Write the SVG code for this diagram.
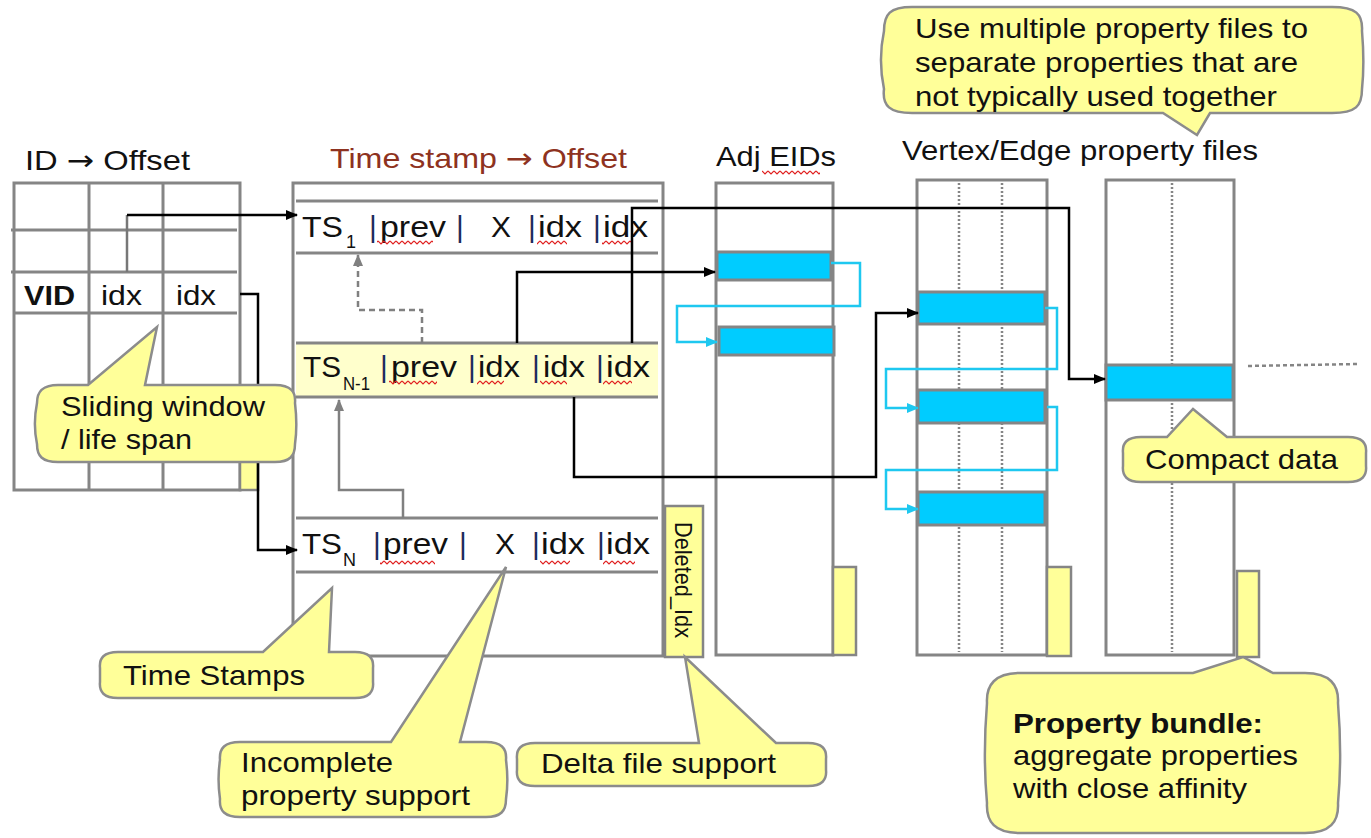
<svg xmlns="http://www.w3.org/2000/svg" width="1371" height="838" viewBox="0 0 1371 838">
<style>
text{font-family:"Liberation Sans",Arial,sans-serif;fill:#111;}
.arr{font-family:"DejaVu Sans",sans-serif;}
.t28{font-size:28px;}
.t30{font-size:30px;}
.sub{font-size:18px;}
.bar{font-size:30px;fill:#1c2c5c;}
.box{fill:#fff;stroke:#858585;stroke-width:3;}
.ln{stroke:#858585;stroke-width:3;fill:none;}
.dot{stroke:#858585;stroke-width:2.5;stroke-dasharray:2,2;fill:none;}
.blue{fill:#00CCFF;stroke:#858585;stroke-width:3;}
.yel{fill:#FFFF99;stroke:#858585;stroke-width:2.5;}
.call{fill:#FFFF99;stroke:#8C8C8C;stroke-width:2.5;}
.bk{stroke:#000;stroke-width:2.5;fill:none;}
.gr{stroke:#808080;stroke-width:2.5;fill:none;}
.cy{stroke:#1EC8F0;stroke-width:2.5;fill:none;}
.wave{fill:url(#wv);}
</style>
<defs>
<pattern id="wv" width="6" height="5" patternUnits="userSpaceOnUse"><path d="M0,1 L3,4 L6,1" fill="none" stroke="#e02020" stroke-width="1.2"/></pattern>
<marker id="ab" markerWidth="12" markerHeight="10" refX="11" refY="5" orient="auto" markerUnits="userSpaceOnUse"><path d="M0,0 L12,5 L0,10 z" fill="#000"/></marker>
<marker id="ag" markerWidth="12" markerHeight="10" refX="11" refY="5" orient="auto" markerUnits="userSpaceOnUse"><path d="M0,0 L12,5 L0,10 z" fill="#808080"/></marker>
<marker id="ac" markerWidth="12" markerHeight="10" refX="11" refY="5" orient="auto" markerUnits="userSpaceOnUse"><path d="M0,0 L12,5 L0,10 z" fill="#1EC8F0"/></marker>
</defs>
<rect width="1371" height="838" fill="#fff"/>

<!-- ID -> Offset table -->
<g id="id-table">
<text class="t28" x="25" y="170" textLength="165" lengthAdjust="spacingAndGlyphs">ID <tspan class="arr">→</tspan> Offset</text>
<rect class="box" x="14" y="183" width="226" height="307"/>
<line class="ln" x1="89" y1="183" x2="89" y2="490"/>
<line class="ln" x1="163" y1="183" x2="163" y2="490"/>
<line class="ln" x1="11" y1="230" x2="237" y2="230"/>
<line class="ln" x1="11" y1="272" x2="237" y2="272"/>
<line class="ln" x1="14" y1="313" x2="237" y2="313"/>
<text class="t28" x="24" y="305" font-weight="bold" textLength="51" lengthAdjust="spacingAndGlyphs">VID</text>
<text class="t28" x="101" y="305" textLength="41" lengthAdjust="spacingAndGlyphs">idx</text>
<text class="t28" x="176" y="305" textLength="40" lengthAdjust="spacingAndGlyphs">idx</text>
<rect class="yel" x="240" y="430" width="18" height="60"/>
</g>

<!-- Time stamp table -->
<g id="ts-table">
<text class="t28" x="330" y="168" textLength="297" lengthAdjust="spacingAndGlyphs" style="fill:#8E3220">Time stamp <tspan class="arr" style="fill:#8E3220">→</tspan> Offset</text>
<rect class="box" x="293" y="183" width="370" height="473"/>
<rect x="296" y="343" width="362" height="54" fill="#FFFFCC"/>
<line class="ln" x1="296" y1="201" x2="658" y2="201"/>
<line class="ln" x1="296" y1="253" x2="658" y2="253"/>
<line class="ln" x1="296" y1="343" x2="658" y2="343"/>
<line class="ln" x1="296" y1="397" x2="658" y2="397"/>
<line class="ln" x1="296" y1="518" x2="658" y2="518"/>
<line class="ln" x1="296" y1="572" x2="658" y2="572"/>
<!-- TS1 row -->
<text class="t30" x="302" y="237" textLength="41" lengthAdjust="spacingAndGlyphs">TS</text>
<text class="sub" x="346" y="248">1</text>
<text class="bar" x="369" y="237">|</text>
<text class="t30" x="380" y="237" textLength="66" lengthAdjust="spacingAndGlyphs">prev</text>
<text class="bar" x="456" y="237">|</text>
<text class="t30" x="491" y="237" textLength="20" lengthAdjust="spacingAndGlyphs">X</text>
<text class="bar" x="528" y="237">|</text>
<text class="t30" x="538" y="237" textLength="44" lengthAdjust="spacingAndGlyphs">idx</text>
<text class="bar" x="593" y="237">|</text>
<text class="t30" x="603" y="237" textLength="45" lengthAdjust="spacingAndGlyphs">idx</text>
<rect class="wave" x="377" y="240" width="56" height="5"/>
<rect class="wave" x="537" y="240" width="30" height="5"/>
<rect class="wave" x="602" y="240" width="31" height="5"/>
<!-- TSN-1 row -->
<text class="t30" x="303" y="377" textLength="38" lengthAdjust="spacingAndGlyphs">TS</text>
<text class="sub" x="343" y="390" textLength="27" lengthAdjust="spacingAndGlyphs">N-1</text>
<text class="bar" x="380" y="377">|</text>
<text class="t30" x="391" y="377" textLength="66" lengthAdjust="spacingAndGlyphs">prev</text>
<text class="bar" x="468" y="377">|</text>
<text class="t30" x="478" y="377" textLength="42" lengthAdjust="spacingAndGlyphs">idx</text>
<text class="bar" x="532" y="377">|</text>
<text class="t30" x="543" y="377" textLength="42" lengthAdjust="spacingAndGlyphs">idx</text>
<text class="bar" x="596" y="377">|</text>
<text class="t30" x="606" y="377" textLength="44" lengthAdjust="spacingAndGlyphs">idx</text>
<rect class="wave" x="389" y="380" width="48" height="5"/>
<rect class="wave" x="477" y="380" width="27" height="5"/>
<rect class="wave" x="540" y="380" width="27" height="5"/>
<rect class="wave" x="603" y="380" width="29" height="5"/>
<!-- TSN row -->
<text class="t30" x="302" y="554" textLength="40" lengthAdjust="spacingAndGlyphs">TS</text>
<text class="sub" x="343" y="566">N</text>
<text class="bar" x="373" y="554">|</text>
<text class="t30" x="383" y="554" textLength="65" lengthAdjust="spacingAndGlyphs">prev</text>
<text class="bar" x="459" y="554">|</text>
<text class="t30" x="495" y="554" textLength="20" lengthAdjust="spacingAndGlyphs">X</text>
<text class="bar" x="532" y="554">|</text>
<text class="t30" x="541" y="554" textLength="44" lengthAdjust="spacingAndGlyphs">idx</text>
<text class="bar" x="597" y="554">|</text>
<text class="t30" x="606" y="554" textLength="44" lengthAdjust="spacingAndGlyphs">idx</text>
<rect class="wave" x="380" y="560" width="55" height="5"/>
<rect class="wave" x="540" y="560" width="30" height="5"/>
<rect class="wave" x="603" y="560" width="32" height="5"/>
</g>

<g id="deleted-idx">
<rect class="yel" x="665" y="506" width="38" height="151"/>
<text font-size="24" transform="translate(675,522) rotate(90)" textLength="116" lengthAdjust="spacingAndGlyphs">Deleted_Idx</text>
</g>

<!-- Adj EIDs -->
<g id="adj-eids">
<text class="t28" x="716" y="166" textLength="120" lengthAdjust="spacingAndGlyphs">Adj EIDs</text>
<rect class="wave" x="762" y="170" width="58" height="5"/>
<rect class="box" x="716" y="183" width="117" height="472"/>
<rect class="blue" x="717" y="252" width="114" height="28"/>
<rect class="blue" x="719" y="327" width="115" height="28"/>
<rect class="yel" x="833" y="567" width="23" height="88"/>
</g>

<!-- Vertex/Edge property files -->
<g id="prop-title">
<text class="t28" x="902" y="160" textLength="356" lengthAdjust="spacingAndGlyphs">Vertex/Edge property files</text>
</g>
<g id="prop-file-1">
<rect class="box" x="917" y="180" width="130" height="475"/>
<line class="dot" x1="959" y1="183" x2="959" y2="652"/>
<line class="dot" x1="1002" y1="183" x2="1002" y2="652"/>
<rect class="blue" x="918" y="292" width="127" height="32"/>
<rect class="blue" x="918" y="390" width="127" height="33"/>
<rect class="blue" x="918" y="492" width="127" height="33"/>
<rect class="yel" x="1047" y="567" width="24" height="89"/>
</g>
<g id="prop-file-2">
<rect class="box" x="1106" y="180" width="128" height="475"/>
<line class="dot" x1="1172" y1="183" x2="1172" y2="652"/>
<rect class="blue" x="1106" y="365" width="127" height="35"/>
<rect class="yel" x="1237" y="571" width="22" height="86"/>
<line x1="1248" y1="366" x2="1357" y2="364" stroke="#858585" stroke-width="2.5" stroke-dasharray="4,3"/>
</g>

<!-- Connectors -->
<g id="connectors">
<path d="M127,272 V215" stroke="#777" stroke-width="2.5" fill="none"/>
<path class="bk" d="M127,215 H297" marker-end="url(#ab)"/>
<path class="bk" d="M240,294 H258 V550 H297" marker-end="url(#ab)"/>
<path class="bk" d="M517,343 V272 H715" marker-end="url(#ab)"/>
<path class="bk" d="M632,343 V208 H1069 V379 H1105" marker-end="url(#ab)"/>
<path class="bk" d="M574,397 V477 H876 V313 H918" marker-end="url(#ab)"/>
<path class="gr" d="M403,518 V490 H339 V400" marker-end="url(#ag)"/>
<path class="gr" d="M422,343 V310 H358 V255" stroke-dasharray="6,4" marker-end="url(#ag)"/>
<path class="cy" d="M831,263 H860 V306 H677 V342 H717" marker-end="url(#ac)"/>
<path class="cy" d="M1045,308 H1057 V369 H886 V408 H918" marker-end="url(#ac)"/>
<path class="cy" d="M1047,407 H1057 V470 H886 V509 H918" marker-end="url(#ac)"/>
</g>

<!-- Callouts -->
<g id="callout-multi">
<path class="call" d="M912,7 L1332,7 C1356,7 1363,14 1362,31 C1364,55 1364,70 1362,89 C1362,106 1356,113 1332,113 L1210,113 L1197,135 L1163,113 L912,113 C890,113 882,106 884,89 C880,70 880,50 884,31 C884,14 890,7 912,7 Z"/>
<text class="t28" x="915" y="38" textLength="393" lengthAdjust="spacingAndGlyphs">Use multiple property files to</text>
<text class="t28" x="915" y="72" textLength="383" lengthAdjust="spacingAndGlyphs">separate properties that are</text>
<text class="t28" x="915" y="106" textLength="362" lengthAdjust="spacingAndGlyphs">not typically used together</text>
</g>
<g id="callout-sliding">
<path class="call" d="M58,385 L88,385 L157,327 L145,385 L275,385 C291,385 296,392 295,403 C297,420 297,430 295,444 C295,456 290,462 275,462 L58,462 C42,462 37,456 37,444 C34,430 34,418 37,403 C37,392 42,385 58,385 Z"/>
<text class="t28" x="61" y="416" textLength="204" lengthAdjust="spacingAndGlyphs">Sliding window</text>
<text class="t28" x="61" y="449" textLength="131" lengthAdjust="spacingAndGlyphs">/ life span</text>
</g>
<g id="callout-timestamps">
<path class="call" d="M118,652 L263,652 L332,588 L329,652 L355,652 C369,652 374,658 373,668 L373,682 C374,692 369,698 355,698 L118,698 C104,698 99,692 100,682 L100,668 C99,658 104,652 118,652 Z"/>
<text class="t28" x="123" y="685" textLength="182" lengthAdjust="spacingAndGlyphs">Time Stamps</text>
</g>
<g id="callout-incomplete">
<path class="call" d="M240,742 L391,742 L506,567 L460,742 L486,742 C501,742 507,748 506,760 C508,775 508,785 506,799 C506,811 501,817 486,817 L240,817 C225,817 219,811 220,799 C218,785 218,773 220,760 C219,748 225,742 240,742 Z"/>
<text class="t28" x="241" y="772" textLength="152" lengthAdjust="spacingAndGlyphs">Incomplete</text>
<text class="t28" x="241" y="805" textLength="229" lengthAdjust="spacingAndGlyphs">property support</text>
</g>
<g id="callout-delta">
<path class="call" d="M535,743 L699,743 L685,657 L776,743 L808,743 C822,743 827,749 826,759 L826,770 C827,780 822,786 808,786 L535,786 C521,786 516,780 517,770 L517,759 C516,749 521,743 535,743 Z"/>
<text class="t28" x="541" y="773" textLength="235" lengthAdjust="spacingAndGlyphs">Delta file support</text>
</g>
<g id="callout-compact">
<path class="call" d="M1141,437 L1167,437 L1193,409 L1227,437 L1348,437 C1362,437 1367,443 1366,453 L1366,466 C1367,476 1362,482 1348,482 L1141,482 C1127,482 1122,476 1123,466 L1123,453 C1122,443 1127,437 1141,437 Z"/>
<text class="t28" x="1145" y="469" textLength="193" lengthAdjust="spacingAndGlyphs">Compact data</text>
</g>
<g id="callout-bundle">
<path class="call" d="M1020,673 L1193,673 L1243,657 L1273,673 L1305,673 C1330,673 1339,685 1338,703 C1341,740 1341,770 1338,803 C1339,822 1330,833 1305,833 L1020,833 C995,833 986,822 987,803 C984,770 984,740 987,703 C986,685 995,673 1020,673 Z"/>
<text class="t28" x="1013" y="733" font-weight="bold" textLength="250" lengthAdjust="spacingAndGlyphs">Property bundle:</text>
<text class="t28" x="1013" y="765" textLength="285" lengthAdjust="spacingAndGlyphs">aggregate properties</text>
<text class="t28" x="1013" y="798" textLength="234" lengthAdjust="spacingAndGlyphs">with close affinity</text>
</g>
</svg>
